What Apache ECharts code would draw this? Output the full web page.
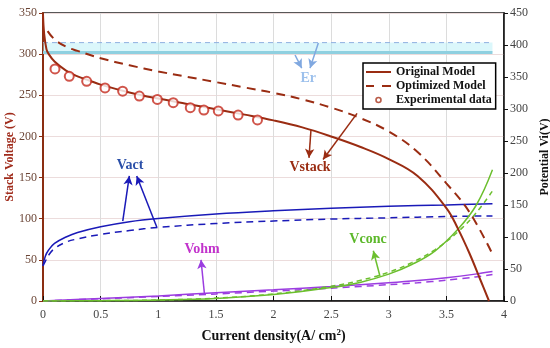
<!DOCTYPE html>
<html><head><meta charset="utf-8">
<script src="https://cdn.jsdelivr.net/npm/echarts@6/dist/echarts.min.js"></script>
<style>html,body{margin:0;padding:0;background:#fff}#c{width:550px;height:348px}</style>
</head><body><div id="c"></div>
<script>
// ---- data ----
const origX = [0,0.01,0.03,0.05,0.1,0.2,0.3,0.4,0.5,0.75,1,1.25,1.5,1.75,2,2.25,2.5,2.75,3,3.25,3.5,3.6,3.7,3.8,3.87];
const origV = [348,325,306,300,291,280,273,268,263,253.5,246,239.5,233,226.5,219.5,211,200,187.5,172.5,152,113,88,58,24,0];
const optX = [0.04,0.1,0.2,0.3,0.5,0.75,1,1.25,1.5,1.75,2,2.25,2.5,2.75,3,3.25,3.5,3.7,3.9];
const optV = [328,318,309,304,295,286.5,279,272.5,266,259.5,253,245,235,222.5,206,181,143,108,57];
const expX = [0.104,0.228,0.379,0.538,0.691,0.836,0.992,1.13,1.278,1.396,1.521,1.693,1.861];
const expV = [282,273,267,259,255,249,245,241,235,232,231,226,220];
const vactX = [0,0.02,0.05,0.1,0.2,0.3,0.5,0.75,1,1.5,2,2.5,3,3.5,3.9];
const vactSolid = [55,70,80,90,100,107,116,124,129,136,141,145,148,150,152];
const vactDash = [55,62,72,82,92,97,104,110,115,121,125,128,130,132,133];
const ohmX = [0,0.5,1,1.5,2,2.5,3,3.25,3.5,3.75,3.9];
const ohmSolid = [0,4,8,13,17.5,22.5,28.5,32,36.5,42,46];
const ohmDash = [0,3.5,7,11,15.5,20,25.5,28.5,32.5,37.5,41.5];
const concX = [0,0.5,1,1.5,2,2.5,2.75,3,3.2,3.4,3.6,3.76,3.9];
const concSolid = [0,0.5,1.5,4,10,21,29,42,57,78,112,150,205];
const concDash = [0,0.5,1.5,4.5,11,23,32,45,60,80,108,138,172];
const erX = [0,3.9];
const erSolid = 302;
const erDash = 314;
const legendNames = ['Original Model','Optimized Model','Experimental data'];

const F = '"Liberation Serif","Times New Roman",serif';
const pair = (xs, ys) => xs.map((x,i)=>[x, ys[i]]);
const arrow = (a, b, color) => [{coord:a, lineStyle:{color:color,width:1.5,type:'solid'}}, {coord:b}];
const label = (pos, text, color) => ({coord:pos, value:text, symbol:'circle', symbolSize:1,
  itemStyle:{color:'rgba(0,0,0,0)'},
  label:{show:true, formatter:text, color:color, fontFamily:F, fontWeight:'bold', fontSize:14, position:'inside'}});

const brown = '#9a2c12', blue = '#1a1ab8', purple = '#9b3de0', green = '#6cbf2e';
const iconSolid = 'path://M0,0M25,12M0,5H25V7H0Z';
const iconDash = 'path://M0,0M25,12M0,5H8V7H0ZM16,5H25V7H16Z';
const iconRing = 'path://M0,0M25,12M9.2,6A3.3,3.3,0,1,1,15.8,6A3.3,3.3,0,1,1,9.2,6ZM10.8,6A1.7,1.7,0,1,0,14.2,6A1.7,1.7,0,1,0,10.8,6Z';

const option = {
  animation:false,
  backgroundColor:'#fff',
  grid:{left:43,right:46,top:13,bottom:47,outerBoundsMode:'none',containLabel:false,
    show:true,borderColor:'#222',borderWidth:1.5},
  legend:{
    data:[
      {name:legendNames[0],icon:iconSolid},
      {name:legendNames[1],icon:iconDash},
      {name:legendNames[2],icon:iconRing,itemStyle:{color:'#a8321a',borderWidth:0}}
    ],
    orient:'vertical', left:363, top:63, itemGap:2, itemWidth:25, itemHeight:12,
    padding:[3,4,3,3], borderColor:'#000', borderWidth:1.5, backgroundColor:'#fff',
    textStyle:{fontFamily:F, fontWeight:'bold', fontSize:12, color:'#111'}
  },
  xAxis:{type:'value',min:0,max:4,interval:0.5,
    axisLine:{onZero:false,lineStyle:{color:'#111',width:1.5}},
    axisTick:{inside:true,length:5,lineStyle:{color:'#111'}},
    axisLabel:{color:'#444',fontFamily:F,fontSize:12,margin:8},
    splitLine:{show:true,lineStyle:{color:'#dcdcdc'}},
    name:'Current density(A/ cm{sup|2})', nameLocation:'middle', nameGap:27, nameMoveOverlap:false,
    nameTextStyle:{color:'#111',fontFamily:F,fontWeight:'bold',fontSize:14,
      rich:{sup:{fontFamily:F,fontWeight:'bold',fontSize:9,color:'#111',verticalAlign:'top',padding:[0,0,8,0]}}}
  },
  yAxis:[
    {type:'value',min:0,max:350,interval:50,position:'left',
      axisLine:{show:true,lineStyle:{color:'#8b2e12',width:2}},
      axisTick:{show:true,length:4,lineStyle:{color:'#8b2e12'}},
      axisLabel:{color:'#6b4536',fontFamily:F,fontSize:12,margin:6},
      splitLine:{show:true,lineStyle:{color:'#ecdcdc'}},
      name:'Stack Voltage (V)', nameLocation:'middle', nameGap:27, nameMoveOverlap:false,
      nameTextStyle:{color:'#a02c1c',fontFamily:F,fontWeight:'bold',fontSize:12}},
    {type:'value',min:0,max:450,interval:50,position:'right',
      axisLine:{show:true,lineStyle:{color:'#111',width:1.5}},
      axisTick:{show:true,length:4,lineStyle:{color:'#111'}},
      axisLabel:{color:'#444',fontFamily:F,fontSize:12,margin:6},
      splitLine:{show:false},
      name:'Potential Vi(V)', nameLocation:'middle', nameGap:35, nameMoveOverlap:false,
      nameTextStyle:{color:'#111',fontFamily:F,fontWeight:'bold',fontSize:12}}
  ],
  series:[
    {name:'Er',type:'line',yAxisIndex:0,symbol:'none',data:erX.map(x=>[x,erSolid]),
      lineStyle:{color:'#8fd0e0',width:3},z:1,
      markArea:{silent:true,itemStyle:{color:'rgba(175,238,246,0.45)'},data:[[{coord:[erX[0],erSolid]},{coord:[erX[1],erDash]}]]}},
    {name:'Er2',type:'line',yAxisIndex:0,symbol:'none',data:erX.map(x=>[x,erDash]),
      lineStyle:{color:'#8fb0e0',width:1,type:[5,4]},z:1},
    {name:'Original Model',type:'line',yAxisIndex:0,symbol:'none',smooth:0.4,
      data:pair(origX,origV),lineStyle:{color:brown,width:2},itemStyle:{color:brown},z:5,
      markLine:{silent:true,symbol:['none','arrow'],symbolSize:[7,9],label:{show:false},
        data:[
          arrow([2.325,208],[2.308,174],brown),
          arrow([2.725,228],[2.43,172],brown),
          arrow([0.692,97],[0.749,152],blue),
          arrow([0.987,90],[0.813,152],blue),
          arrow([1.40,9.7],[1.371,50],purple),
          arrow([2.924,30],[2.866,61],green),
          arrow([2.187,299],[2.245,283],'#80a8e0'),
          arrow([2.389,313.5],[2.317,283],'#80a8e0')
        ]},
      markPoint:{silent:true,data:[
        label([2.317,162],'Vstack',brown),
        label([0.755,164.5],'Vact','#2a4fa8'),
        label([1.38,62.5],'Vohm','#c233cc'),
        label([2.82,74.5],'Vconc','#5cb82a'),
        label([2.302,271],'Er','#9cc0ec')
      ]}},
    {name:'Optimized Model',type:'line',yAxisIndex:0,symbol:'none',smooth:0.4,
      data:pair(optX,optV),lineStyle:{color:brown,width:2,type:[9,6]},itemStyle:{color:brown},z:5},
    {name:'Experimental data',type:'scatter',yAxisIndex:0,symbol:'emptyCircle',symbolSize:9,
      data:pair(expX,expV),itemStyle:{color:'#c42a1e',borderWidth:1.6,borderColor:'#c42a1e'},z:6},
    {name:'Vact',type:'line',yAxisIndex:1,symbol:'none',smooth:0.4,
      data:pair(vactX,vactSolid),lineStyle:{color:blue,width:1.5},z:4},
    {name:'Vact2',type:'line',yAxisIndex:1,symbol:'none',smooth:0.4,
      data:pair(vactX,vactDash),lineStyle:{color:blue,width:1.5,type:[7,5]},z:4},
    {name:'Vohm',type:'line',yAxisIndex:1,symbol:'none',smooth:0.3,
      data:pair(ohmX,ohmSolid),lineStyle:{color:purple,width:1.5},z:4},
    {name:'Vohm2',type:'line',yAxisIndex:1,symbol:'none',smooth:0.3,
      data:pair(ohmX,ohmDash),lineStyle:{color:purple,width:1.5,type:[7,5]},z:4},
    {name:'Vconc',type:'line',yAxisIndex:1,symbol:'none',smooth:0.4,
      data:pair(concX,concSolid),lineStyle:{color:green,width:1.5},z:4},
    {name:'Vconc2',type:'line',yAxisIndex:1,symbol:'none',smooth:0.4,
      data:pair(concX,concDash),lineStyle:{color:green,width:1.5,type:[5,4]},z:4}
  ]
};
const chart = echarts.init(document.getElementById('c'), null, {renderer:'canvas'});
chart.setOption(option);
</script>
</body></html>
